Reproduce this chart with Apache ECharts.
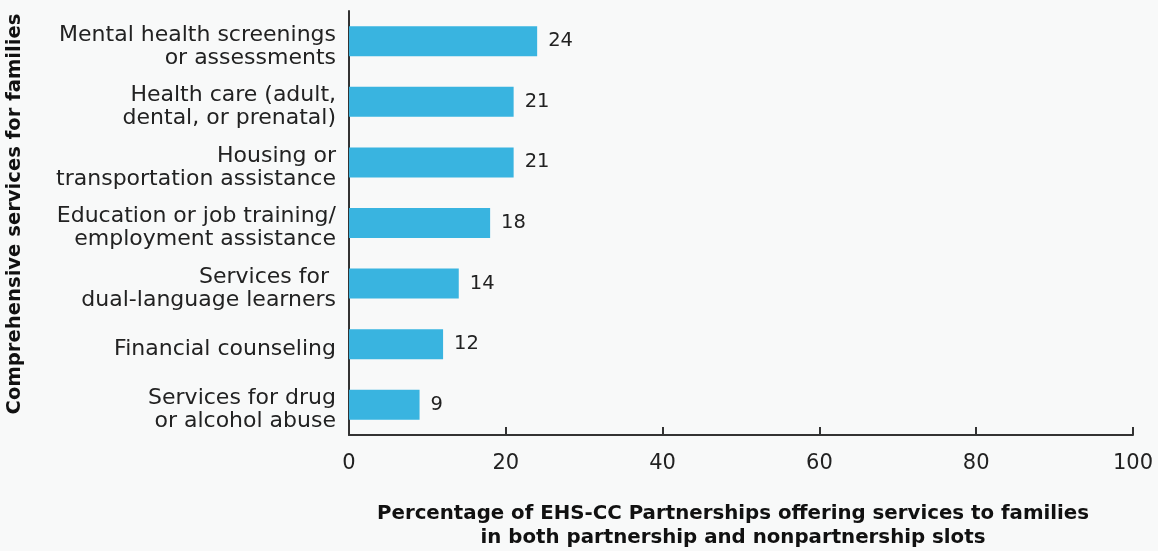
<!DOCTYPE html>
<html>
<head>
<meta charset="utf-8">
<style>
  html, body { margin: 0; padding: 0; background: #f8f9f9; }
  #chart { width: 1158px; height: 551px; }
</style>
<script src="https://cdn.jsdelivr.net/npm/echarts@6/dist/echarts.min.js"></script>
</head>
<body>
<div id="chart"></div>
<script>
// Comprehensive services offered to families (top to bottom)
const categories = [
  'Mental health screenings\nor assessments',
  'Health care (adult,\ndental, or prenatal)',
  'Housing or\ntransportation assistance',
  'Education or job training/\nemployment assistance',
  'Services for \ndual-language learners',
  'Financial counseling',
  'Services for drug\nor alcohol abuse'
];
const percentages = [24, 21, 21, 18, 14, 12, 9];
const xTicks = { min: 0, max: 100, interval: 20 };

const FONT = '"DejaVu Sans", "Open Sans", sans-serif';
const INK = '#222222';

const chart = echarts.init(document.getElementById('chart'));
chart.setOption({
  backgroundColor: '#f8f9f9',
  animation: false,
  grid: { left: 349, right: 25, top: 11, bottom: 116, containLabel: false, outerBoundsMode: 'none' },
  xAxis: {
    type: 'value',
    min: xTicks.min, max: xTicks.max, interval: xTicks.interval,
    name: 'Percentage of EHS-CC Partnerships offering services to families\nin both partnership and nonpartnership slots',
    nameLocation: 'middle',
    nameGap: 67,
    nameTextStyle: { fontFamily: FONT, fontSize: 19.8, fontWeight: 'bold', color: '#111', lineHeight: 24, padding: [0, 16, 0, 0] },
    axisLine: { show: true, lineStyle: { color: '#333', width: 2 } },
    axisTick: { show: true, inside: true, length: 8, lineStyle: { color: '#333', width: 2 } },
    axisLabel: { fontFamily: FONT, fontSize: 21, color: INK, margin: 18 },
    splitLine: { show: false }
  },
  yAxis: {
    type: 'category',
    data: categories,
    inverse: true,
    name: 'Comprehensive services for families',
    nameLocation: 'middle',
    nameRotate: 90,
    nameGap: 324,
    nameTextStyle: { fontFamily: FONT, fontSize: 19.6, fontWeight: 'bold', color: '#111', padding: [0, 0, 0, 18] },
    axisLine: { show: true, lineStyle: { color: '#333', width: 2 } },
    axisTick: { show: false },
    axisLabel: {
      fontFamily: FONT, fontSize: 22, color: INK, margin: 13, lineHeight: 23, align: 'right',
      // a thin spacer line above each label nudges the text block slightly downward
      formatter: (v) => '{gap| }\n' + v,
      rich: { gap: { fontSize: 1, lineHeight: 10, height: 10 } }
    }
  },
  series: [{
    type: 'bar',
    data: percentages,
    barWidth: 30,
    itemStyle: { color: '#39b4e0' },
    label: {
      show: true, position: 'right', distance: 11,
      fontFamily: FONT, fontSize: 19.5, color: INK
    }
  }]
});
</script>
</body>
</html>
